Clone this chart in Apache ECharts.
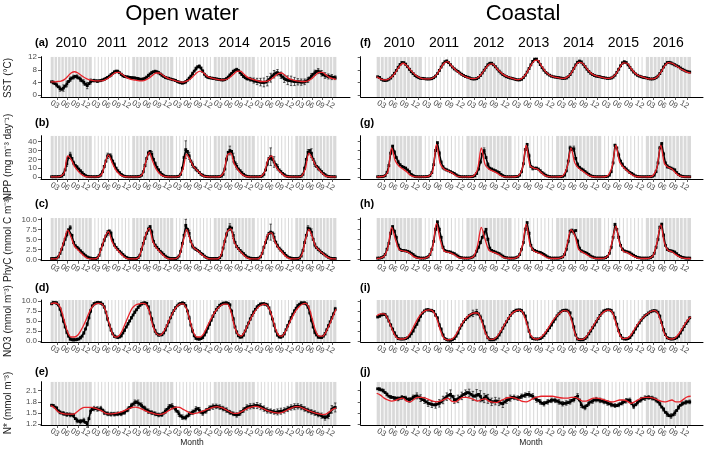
<!DOCTYPE html>
<html><head><meta charset="utf-8">
<script src="https://cdn.jsdelivr.net/npm/echarts@6/dist/echarts.min.js"></script>
<style>html,body{margin:0;padding:0;background:#fff}#c{width:709px;height:450px}</style>
</head><body><div id="c"></div><script>
// ---------- categories / labels ----------
const years = [2010,2011,2012,2013,2014,2015,2016];
const shadedYears = [1,0,1,0,1,0,1];
const monthTickMonths = [2,5,8,11];
const monthLabels = ['03','06','09','12'];
const panelTags = ['(a)','(b)','(c)','(d)','(e)','(f)','(g)','(h)','(i)','(j)'];
const columnTitles = ['Open water','Coastal'];
const rowTitles = ['SST (°C)','NPP (mg m⁻³ day⁻¹)','PhyC (mmol C m⁻³)','NO3 (mmol m⁻³)','N* (mmol m⁻³)'];
const yTickValues = [[0,4,8,12],[0,10,20,30,40],[0,2.5,5,7.5,10],[0,2.5,5,7.5,10],[1.2,1.5,1.8,2.1]];
const yTickDecimals = [0,0,1,1,1];
const xLabel = 'Month';

// ---------- observed (black), semi-monthly, Jan 2010 .. Dec 2016 ----------
const sstOpenObs = [
4.2,4.0,3.6,3.2,2.6,2.0,1.8,2.2,2.8,3.5,4.3,5.0,5.4,5.7,5.9,5.8,5.4,5.0,4.5,4.0,3.4,3.0,3.6,4.3,
4.5,4.6,4.5,4.4,4.5,4.6,4.8,5.0,5.3,5.6,6.0,6.4,6.9,7.3,7.6,7.5,7.1,6.6,6.1,5.9,5.8,5.7,5.6,5.5,
5.5,5.4,5.3,5.2,5.0,5.0,5.1,5.3,5.7,6.2,6.7,7.1,7.4,7.5,7.4,7.1,6.7,6.3,5.9,5.6,5.4,5.3,5.1,4.9,
4.8,4.6,4.3,4.1,3.9,3.8,3.9,4.2,4.7,5.3,6.0,6.8,7.6,8.4,9.0,9.1,8.6,7.6,6.6,6.0,5.6,5.5,5.4,5.3,
5.2,5.1,5.0,4.9,4.8,4.8,4.9,5.2,5.7,6.3,6.9,7.5,7.9,8.1,7.8,7.2,6.5,5.9,5.5,5.2,5.1,5.0,4.8,4.6,
4.4,4.3,4.2,4.1,4.0,4.0,4.1,4.4,4.9,5.5,6.1,6.6,7.0,7.1,6.8,6.3,5.7,5.2,4.9,4.7,4.6,4.5,4.4,4.3,
4.3,4.2,4.2,4.1,4.1,4.2,4.4,4.8,5.4,6.0,6.6,7.1,7.5,7.6,7.3,6.9,6.5,6.2,6.0,5.9,5.8,5.7,5.6,5.5];
const sstCoastObs = [
5.8,5.6,5.0,4.7,4.6,4.7,5.0,5.4,6.1,6.9,7.8,8.8,9.7,10.3,10.3,9.8,9.0,8.2,7.4,6.8,6.2,5.8,5.5,5.3,
5.3,5.2,5.1,5.1,5.1,5.2,5.5,6.0,6.8,7.8,8.9,9.9,10.6,10.8,10.3,9.6,8.9,8.3,7.9,7.5,7.0,6.6,6.2,5.9,
5.7,5.5,5.2,5.1,5.1,5.2,5.6,6.2,7.0,7.9,8.8,9.6,10.1,10.1,9.6,9.0,8.3,7.6,7.0,6.5,6.1,5.8,5.6,5.4,
5.3,5.1,4.9,4.8,4.8,5.0,5.5,6.3,7.3,8.4,9.6,10.7,11.4,11.4,10.7,9.7,8.7,7.9,7.2,6.7,6.3,6.0,5.8,5.7,
5.6,5.5,5.4,5.3,5.3,5.4,5.8,6.5,7.4,8.5,9.6,10.4,10.8,10.5,9.8,9.0,8.2,7.5,6.9,6.5,6.2,6.0,5.9,5.8,
5.6,5.5,5.4,5.3,5.3,5.4,5.7,6.3,7.2,8.2,9.3,10.2,10.6,10.3,9.6,8.8,8.0,7.3,6.7,6.3,6.0,5.8,5.6,5.5,
5.4,5.2,5.1,5.1,5.2,5.5,6.0,6.8,7.8,8.9,9.8,10.3,10.4,10.2,9.9,9.6,9.3,9.0,8.6,8.2,7.9,7.6,7.4,7.3];
const nppOpenObs = [
0.3,0.3,0.3,0.3,0.4,0.5,1,3,8,15,22,25,21,16,13,11,9,7,5,3,1.5,0.8,0.5,0.4,
0.3,0.3,0.3,0.4,0.8,2,6,12,18,24,25,23,18,14,10,7,5,3,1.5,0.8,0.4,0.3,0.3,0.3,
0.3,0.3,0.3,0.4,0.8,2,6,13,21,27,29,26,20,15,11,8,5,3,1.5,0.8,0.4,0.3,0.3,0.3,
0.3,0.3,0.4,0.8,3,10,22,31,29,24,18,14,11,9,7,5,3,2,1,0.6,0.4,0.3,0.3,0.3,
0.3,0.3,0.3,0.5,1,3,9,20,28,30,29,22,16,12,9,7,5,3,1.5,0.8,0.4,0.3,0.3,0.3,
0.3,0.3,0.3,0.5,1,3,8,15,21,23,20,17,14,11,8,6,4,2.5,1.2,0.6,0.4,0.3,0.3,0.3,
0.3,0.3,0.4,0.8,3,10,20,28,30,27,20,15,12,10,8,6,4,2.5,1.2,0.6,0.4,0.3,0.3,0.3];
const nppCoastObs = [
0.3,0.3,0.4,0.6,1.5,5,13,27,35,28,22,17,14,12,11,10,8,6,3,1.5,0.6,0.4,0.3,0.3,
0.3,0.3,0.4,0.6,1.5,5,14,30,39,27,17,11,9,8,7,6,5,4,2.5,1.2,0.5,0.3,0.3,0.3,
0.3,0.3,0.4,0.6,1.5,4,9,17,26,30,22,14,10,9,8,7,6,5,3,1.5,0.6,0.3,0.3,0.3,
0.3,0.3,0.4,0.6,2,6,15,31,37,24,12,10,10,10,9,7,5,3.5,2,1,0.5,0.3,0.3,0.3,
0.3,0.3,0.4,0.7,2,7,18,33,31,32,21,14,11,9,8,6,4.5,3,1.5,0.8,0.4,0.3,0.3,0.3,
0.3,0.3,0.4,0.7,2,6,16,36,33,25,18,14,11,9,7,5,4,2.5,1.2,0.6,0.4,0.3,0.3,0.3,
0.3,0.3,0.4,0.7,2,6,16,33,38,26,16,12,11,10,9,8,5,3,1.5,0.8,0.4,0.3,0.3,0.3];
const phycOpenObs = [
0.2,0.2,0.2,0.3,0.6,1.5,2.5,3.8,5.0,6.2,7.4,7.9,6.0,4.2,3.4,3.0,2.6,2.1,1.7,1.3,0.9,0.6,0.4,0.3,
0.2,0.2,0.2,0.3,1.0,2.5,3.6,4.8,5.8,6.6,7.1,6.5,4.8,3.6,3.0,2.5,2.0,1.6,1.2,0.8,0.5,0.3,0.2,0.2,
0.2,0.2,0.2,0.4,1.0,2.5,4.0,5.3,6.5,7.5,8.2,6.8,4.5,3.5,3.0,2.5,2.0,1.6,1.2,0.8,0.5,0.3,0.2,0.2,
0.2,0.2,0.3,0.8,2.0,4.0,6.0,8.5,7.5,6.5,4.5,3.3,2.8,2.5,2.2,1.9,1.5,1.2,0.8,0.5,0.3,0.2,0.2,0.2,
0.2,0.2,0.2,0.4,1.0,2.8,4.5,6.2,7.4,8.1,7.8,6.0,4.2,3.2,2.7,2.2,1.8,1.4,1.0,0.6,0.4,0.3,0.2,0.2,
0.2,0.2,0.3,0.6,1.5,3.0,4.2,5.5,6.5,6.8,6.6,5.5,4.3,3.4,2.8,2.3,1.9,1.5,1.0,0.6,0.4,0.3,0.2,0.2,
0.2,0.2,0.3,0.8,2.2,4.2,6.0,7.8,7.6,6.8,5.0,3.6,2.9,2.5,2.1,1.7,1.4,1.1,0.8,0.5,0.3,0.2,0.2,0.2];
const phycCoastObs = [
0.3,0.3,0.4,0.6,1.2,2.5,4.0,6.5,8.2,7.0,5.5,3.5,2.5,2.2,2.2,2.1,2.0,1.8,1.5,1.2,0.8,0.5,0.4,0.3,
0.3,0.3,0.4,0.6,1.2,2.5,4.5,7.5,9.4,7.5,5.5,3.0,2.2,2.0,1.9,1.8,1.6,1.4,1.1,0.8,0.5,0.4,0.3,0.3,
0.3,0.3,0.4,0.6,1.0,2.0,3.0,4.2,5.5,6.5,7.5,5.0,2.8,2.2,2.0,1.8,1.6,1.4,1.1,0.8,0.5,0.4,0.3,0.3,
0.3,0.3,0.4,0.6,1.2,2.5,4.2,7.5,9.2,6.5,3.5,2.5,2.2,2.0,1.8,1.7,1.5,1.2,0.9,0.6,0.4,0.3,0.3,0.3,
0.3,0.3,0.4,0.6,1.2,2.5,4.5,7.0,7.3,6.8,7.2,4.5,2.8,2.1,1.9,1.7,1.5,1.2,0.8,0.6,0.4,0.3,0.3,0.3,
0.3,0.3,0.4,0.7,1.5,3.0,5.5,8.7,7.5,5.5,3.5,2.5,2.1,1.9,1.8,1.6,1.3,1.0,0.7,0.5,0.4,0.3,0.3,0.3,
0.3,0.3,0.4,0.7,1.5,3.0,5.0,8.0,8.8,6.0,3.5,2.5,2.2,2.1,2.0,1.8,1.4,1.0,0.7,0.5,0.4,0.3,0.3,0.3];
const no3OpenObs = [
9.3,9.6,9.6,9.5,9.0,8.0,6.5,5.0,3.5,2.2,1.2,0.5,0.3,0.3,0.3,0.4,0.5,0.8,1.2,2.0,3.0,4.2,5.8,7.5,
8.8,9.3,9.5,9.6,9.6,9.5,9.2,8.5,7.2,5.5,4.0,2.8,1.8,1.2,1.0,0.9,1.0,1.3,2.0,2.7,3.5,4.3,5.0,5.8,
6.5,7.2,7.8,8.4,8.9,9.3,9.5,9.5,9.4,8.5,7.0,5.5,3.8,2.5,1.8,1.5,1.5,1.6,2.0,2.8,3.8,4.8,5.8,6.8,
7.6,8.3,8.8,9.2,9.4,9.5,9.4,8.8,7.5,5.8,4.0,2.5,1.3,0.7,0.5,0.5,0.6,0.9,1.5,2.3,3.2,4.2,5.2,6.2,
7.1,7.8,8.4,8.9,9.2,9.4,9.5,9.5,9.4,9.0,7.5,5.5,3.5,2.2,1.3,1.0,1.0,1.5,2.5,3.5,4.5,5.5,6.4,7.2,
7.9,8.5,8.9,9.2,9.3,9.3,9.2,9.0,8.3,7.0,5.5,4.0,2.5,1.5,1.0,1.0,1.2,1.8,2.8,3.8,4.8,5.8,6.7,7.5,
8.2,8.8,9.2,9.5,9.5,9.5,9.3,8.5,7.0,5.2,3.5,2.2,1.5,1.0,0.9,0.9,1.2,1.8,2.8,3.8,4.8,5.8,6.8,8.0];
const no3CoastObs = [
6.0,6.2,6.5,6.7,6.6,6.0,5.0,4.0,3.0,2.0,1.2,0.6,0.5,0.5,0.5,0.6,0.8,1.2,1.8,2.5,3.5,4.2,5.2,6.2,
7.0,7.5,7.8,7.8,7.7,7.6,7.4,6.5,5.8,4.0,3.0,1.5,0.6,0.3,0.2,0.2,0.3,0.6,1.2,2.0,3.2,4.0,4.8,5.4,
5.8,6.3,6.6,6.9,7.0,7.2,6.8,6.0,5.0,3.5,2.0,0.8,0.3,0.3,0.3,0.5,0.8,1.5,2.3,3.2,4.0,4.8,5.6,6.4,
7.0,7.4,7.7,7.7,7.8,7.6,7.0,6.2,4.5,2.5,1.0,0.6,0.5,0.5,0.5,0.6,0.9,1.4,2.0,2.6,3.3,4.0,4.8,5.5,
6.3,6.8,7.3,7.6,7.7,7.7,7.5,7.0,5.5,3.5,1.5,0.5,0.3,0.3,0.3,0.6,1.0,1.8,2.5,3.3,4.0,4.8,5.6,6.4,
7.0,7.5,7.7,7.8,7.8,7.6,7.0,5.8,4.2,2.6,1.4,0.7,0.5,0.5,0.6,0.9,1.5,2.2,3.0,3.8,4.5,5.2,5.8,6.3,
6.6,7.0,7.3,7.5,7.6,7.5,7.2,6.2,4.6,2.8,1.6,0.8,0.6,0.5,0.5,0.6,0.8,1.2,2.0,2.8,3.6,4.4,5.0,5.8];
const nstarOpenObs = [
1.71,1.70,1.66,1.63,1.56,1.52,1.50,1.49,1.47,1.46,1.47,1.45,1.45,1.44,1.35,1.30,1.28,1.27,1.29,1.30,1.25,1.19,1.35,1.55,
1.60,1.62,1.62,1.61,1.60,1.62,1.58,1.52,1.50,1.48,1.47,1.47,1.48,1.47,1.47,1.48,1.48,1.48,1.50,1.52,1.56,1.60,1.65,1.70,
1.74,1.78,1.80,1.77,1.74,1.70,1.66,1.62,1.58,1.55,1.53,1.51,1.50,1.48,1.46,1.45,1.45,1.46,1.50,1.55,1.60,1.65,1.70,1.68,
1.64,1.60,1.55,1.48,1.42,1.39,1.37,1.38,1.42,1.47,1.50,1.52,1.55,1.60,1.62,1.58,1.52,1.50,1.53,1.56,1.60,1.63,1.66,1.67,
1.68,1.68,1.67,1.66,1.64,1.62,1.60,1.58,1.55,1.52,1.50,1.48,1.46,1.45,1.46,1.50,1.54,1.58,1.62,1.65,1.67,1.68,1.68,1.69,
1.70,1.70,1.69,1.67,1.65,1.62,1.59,1.57,1.56,1.55,1.54,1.53,1.52,1.53,1.54,1.55,1.55,1.57,1.59,1.61,1.63,1.65,1.66,1.67,
1.68,1.68,1.67,1.66,1.64,1.61,1.59,1.57,1.55,1.53,1.52,1.50,1.48,1.46,1.45,1.43,1.40,1.38,1.40,1.43,1.52,1.60,1.64,1.65];
const nstarCoastObs = [
2.15,2.14,2.12,2.10,2.05,2.00,1.95,1.93,1.92,1.90,1.90,1.88,1.90,1.92,1.92,1.90,1.87,1.85,1.88,1.92,1.95,1.96,1.93,1.90,
1.86,1.84,1.80,1.76,1.75,1.73,1.72,1.72,1.74,1.76,1.80,1.85,1.90,1.94,1.98,2.00,1.95,1.86,1.85,1.88,1.92,1.96,2.00,2.02,
2.05,2.04,2.00,1.96,1.95,1.98,2.00,1.95,1.85,1.90,1.95,1.88,1.84,1.80,1.80,1.82,1.82,1.80,1.76,1.75,1.80,1.84,1.86,1.90,
1.92,1.92,1.90,1.90,1.92,1.95,1.96,1.98,2.00,2.00,1.97,1.95,1.90,1.86,1.84,1.80,1.76,1.75,1.78,1.80,1.82,1.84,1.85,1.84,
1.82,1.80,1.77,1.75,1.76,1.77,1.78,1.80,1.84,1.86,1.92,1.95,1.85,1.72,1.66,1.65,1.70,1.76,1.80,1.82,1.85,1.86,1.85,1.84,
1.82,1.81,1.79,1.77,1.75,1.73,1.71,1.70,1.70,1.72,1.75,1.78,1.80,1.83,1.85,1.84,1.75,1.68,1.72,1.78,1.82,1.86,1.89,1.90,
1.92,1.92,1.91,1.90,1.88,1.85,1.80,1.75,1.66,1.60,1.52,1.47,1.43,1.42,1.45,1.50,1.57,1.65,1.71,1.75,1.77,1.79,1.80,1.80];

// ---------- model (red), first of each month Jan 2010 .. Jan 2017 ----------
const sstOpenModel = [
4.2,4.2,4.3,4.4,4.9,5.9,7.0,7.4,7.0,6.2,5.5,5.0,
4.7,4.5,4.5,4.5,4.8,5.4,6.3,7.1,7.2,6.6,5.8,5.2,
4.9,4.7,4.5,4.5,4.8,5.4,6.3,7.0,7.0,6.3,5.6,5.1,
4.8,4.4,4.2,4.1,4.4,5.0,6.0,7.1,7.6,7.0,6.0,5.5,
5.2,5.0,4.8,4.8,5.1,5.8,6.8,7.6,7.5,6.5,5.6,5.1,
4.8,4.5,4.3,4.3,4.5,5.1,6.0,6.8,7.0,6.2,5.3,4.9,
4.6,4.4,4.3,4.3,4.6,5.4,6.4,7.2,7.2,6.4,5.6,5.2,5.0];
const sstCoastModel = [
5.8,5.1,4.8,5.0,5.7,7.2,9.0,10.1,9.4,8.0,6.8,5.8,
5.3,5.1,5.1,5.4,6.4,8.3,10.1,10.6,9.3,8.1,7.1,6.3,
5.7,5.3,5.2,5.5,6.6,8.3,9.7,9.9,8.6,7.4,6.4,5.8,
5.4,5.0,4.9,5.4,6.8,8.9,10.7,11.1,9.4,7.7,6.5,5.9,
5.6,5.4,5.3,5.7,6.9,8.9,10.4,10.2,8.7,7.3,6.4,6.0,
5.7,5.4,5.3,5.6,6.7,8.7,10.2,10.1,8.5,7.1,6.2,5.8,
5.4,5.1,5.1,5.7,7.2,9.2,10.3,10.1,9.4,8.6,7.9,7.3,7.0];
const nppOpenModel = [
0.2,0.2,0.2,1,5,24,20,12,7,3,0.8,0.2,
0.2,0.2,0.5,3,15,25,17,9,4,1.2,0.3,0.2,
0.2,0.2,0.5,3,17,28,18,9,4,1.2,0.3,0.2,
0.2,0.2,1.5,10,26,20,12,8,4,1,0.3,0.2,
0.2,0.2,1,6,25,27,15,9,4,1.2,0.3,0.2,
0.2,0.2,1,6,20,24,14,8,4,1,0.3,0.2,
0.2,0.2,1.5,10,27,21,13,8,4,1,0.3,0.2,0.2];
const nppCoastModel = [
0.2,0.3,1,6,33,18,12,9,6,2,0.4,0.2,
0.2,0.3,1,7,37,15,9,7,5,2,0.4,0.2,
0.2,0.3,1.5,9,33,14,9,7,5,2,0.4,0.2,
0.2,0.3,1.5,10,36,13,10,9,5,1.5,0.4,0.2,
0.2,0.3,2,12,33,16,10,7,4,1.2,0.3,0.2,
0.2,0.3,2,12,36,17,11,7,3.5,1,0.3,0.2,
0.2,0.3,2,11,36,15,11,9,4.5,1.2,0.3,0.2,0.2];
const phycOpenModel = [
0.1,0.1,0.3,2.2,4.8,7.3,5.5,3.3,2.4,1.5,0.7,0.2,
0.1,0.1,0.6,3.0,5.6,6.9,4.5,3.0,2.0,1.1,0.4,0.1,
0.1,0.1,0.6,3.2,6.2,7.8,4.6,3.0,2.0,1.1,0.4,0.1,
0.1,0.2,1.2,4.5,7.5,5.0,3.0,2.3,1.6,0.8,0.3,0.1,
0.1,0.1,0.8,3.8,7.0,7.6,4.3,2.8,1.8,0.9,0.3,0.1,
0.1,0.1,1.0,3.8,6.3,6.6,4.4,2.9,1.9,0.9,0.3,0.1,
0.1,0.2,1.3,5.0,7.5,5.6,3.2,2.3,1.5,0.8,0.3,0.1,0.1];
const phycCoastModel = [
0.2,0.3,0.8,3.0,8.0,5.0,2.4,2.1,1.9,1.4,0.6,0.3,
0.2,0.3,0.8,3.2,9.0,4.8,2.1,1.8,1.5,1.0,0.4,0.3,
0.2,0.3,0.8,3.5,8.0,5.0,2.3,1.8,1.5,1.0,0.4,0.3,
0.2,0.3,0.8,3.5,8.8,3.8,2.1,1.7,1.3,0.7,0.3,0.2,
0.2,0.3,0.8,4.0,7.4,6.0,2.5,1.8,1.3,0.7,0.3,0.2,
0.2,0.3,1.0,4.5,8.3,4.0,2.0,1.7,1.1,0.6,0.3,0.2,
0.2,0.3,1.0,4.2,8.6,4.0,2.2,1.9,1.2,0.6,0.3,0.2,0.2];
const no3OpenModel = [
9.3,9.5,9.3,8.0,5.0,2.2,1.0,1.0,1.5,2.8,4.5,6.5,
8.3,9.2,9.4,9.3,8.0,5.0,2.2,1.0,1.2,2.5,4.5,6.5,
8.2,9.0,9.3,9.4,9.2,7.5,4.0,2.0,1.4,2.0,3.5,5.5,
7.2,8.5,9.2,9.3,8.0,5.0,2.2,1.0,1.0,1.8,3.5,5.2,
6.8,8.0,8.8,9.2,9.2,7.5,4.0,1.8,1.2,2.2,4.0,5.8,
7.3,8.4,9.0,9.2,8.6,6.5,3.5,1.5,1.2,2.3,4.0,5.8,
7.4,8.5,9.2,9.4,8.3,5.5,2.5,1.2,1.2,2.2,4.0,6.0,8.0];
const no3CoastModel = [
6.3,6.8,6.8,5.5,3.2,1.2,0.5,0.5,0.8,2.0,3.8,5.6,
6.9,7.6,7.8,7.5,5.8,2.8,0.7,0.3,0.4,1.3,3.0,4.6,
5.8,6.6,7.0,7.0,5.2,2.2,0.5,0.4,0.9,2.2,3.8,5.4,
6.7,7.4,7.7,7.3,4.8,1.8,0.6,0.5,1.0,2.0,3.4,4.9,
6.1,7.0,7.6,7.5,5.6,2.0,0.4,0.4,1.0,2.4,3.9,5.4,
6.6,7.4,7.7,7.2,4.5,1.6,0.6,0.7,1.5,3.0,4.4,5.6,
6.5,7.2,7.6,7.3,5.0,1.8,0.6,0.5,0.9,2.0,3.5,5.0,6.0];
const nstarOpenModel = [
1.70,1.65,1.55,1.50,1.48,1.47,1.47,1.48,1.55,1.62,1.65,1.65,
1.65,1.63,1.60,1.56,1.50,1.48,1.48,1.49,1.51,1.54,1.58,1.62,
1.65,1.66,1.64,1.60,1.56,1.52,1.50,1.47,1.46,1.48,1.52,1.58,
1.63,1.66,1.65,1.60,1.55,1.50,1.48,1.50,1.53,1.56,1.60,1.63,
1.66,1.67,1.65,1.62,1.57,1.52,1.49,1.49,1.53,1.58,1.63,1.66,
1.68,1.67,1.64,1.60,1.56,1.53,1.51,1.50,1.51,1.55,1.60,1.64,
1.67,1.67,1.64,1.60,1.56,1.53,1.50,1.48,1.46,1.47,1.53,1.60,1.63];
const nstarCoastModel = [
2.03,1.98,1.90,1.85,1.82,1.84,1.88,1.90,1.82,1.80,1.87,1.92,
1.92,1.90,1.86,1.82,1.80,1.82,1.86,1.90,1.82,1.80,1.86,1.92,
1.92,1.90,1.86,1.82,1.86,1.88,1.82,1.79,1.78,1.82,1.87,1.91,
1.92,1.90,1.86,1.81,1.80,1.84,1.90,1.93,1.95,1.95,1.95,1.95,
1.93,1.91,1.90,1.90,1.92,1.92,1.88,1.82,1.82,1.86,1.90,1.90,
1.88,1.85,1.82,1.80,1.82,1.85,1.85,1.82,1.76,1.80,1.86,1.91,
1.92,1.92,1.90,1.86,1.82,1.80,1.82,1.85,1.80,1.80,1.86,1.93,1.95];

// ---------- error half-widths (one per month) ----------
const sstOpenErr = [
0.5,0.6,0.8,1.0,0.9,0.7,0.6,0.6,0.7,0.8,1.0,0.8,
0.4,0.4,0.3,0.3,0.3,0.4,0.4,0.4,0.3,0.3,0.3,0.3,
0.3,0.3,0.3,0.3,0.4,0.4,0.4,0.4,0.3,0.3,0.3,0.3,
0.3,0.3,0.3,0.4,0.4,0.5,0.5,0.5,0.4,0.3,0.3,0.3,
0.3,0.3,0.3,0.3,0.4,0.4,0.4,0.4,0.3,0.4,0.6,0.8,
1.0,1.2,1.4,1.5,1.4,1.2,1.0,1.0,1.2,1.4,1.5,1.3,
1.0,1.0,0.9,0.8,0.8,0.8,0.8,0.9,0.9,0.8,0.8,0.6];
const sstCoastErr = [
0.2,0.2,0.2,0.2,0.2,0.3,0.3,0.3,0.2,0.2,0.2,0.2,
0.2,0.2,0.2,0.2,0.2,0.3,0.3,0.3,0.2,0.2,0.2,0.2,
0.2,0.2,0.2,0.2,0.2,0.3,0.3,0.3,0.2,0.2,0.2,0.2,
0.2,0.2,0.2,0.2,0.2,0.3,0.3,0.3,0.2,0.2,0.2,0.2,
0.2,0.2,0.2,0.2,0.2,0.3,0.3,0.3,0.2,0.2,0.2,0.2,
0.2,0.2,0.2,0.2,0.2,0.3,0.3,0.3,0.2,0.2,0.2,0.2,
0.2,0.2,0.2,0.2,0.2,0.3,0.3,0.3,0.2,0.2,0.2,0.2];
const nppOpenErr = [
0,0,0,1,3,3,2,2,1,0,0,0,
0,0,0,1,3,3,2,1,1,0,0,0,
0,0,0,1,2,3,2,1,1,0,0,0,
0,0,1,10,4,3,2,1,1,0,0,0,
0,0,0,2,5,5,3,1,1,0,0,0,
0,0,0,2,10,6,3,1,1,0,0,0,
0,0,1,3,5,3,2,1,1,0,0,0];
const nppCoastErr = [
0,0,0,1,2,2,1,1,1,0,0,0,
0,0,0,1,2,2,1,1,0,0,0,0,
0,0,0,1,3,2,1,1,1,0,0,0,
0,0,0,1,2,2,1,1,0,0,0,0,
0,0,0,2,3,2,1,1,0,0,0,0,
0,0,0,1,2,2,1,1,0,0,0,0,
0,0,0,1,2,2,1,1,0,0,0,0];
const phycOpenErr = [
0,0,0,0.3,0.6,0.5,0.3,0.2,0.2,0,0,0,
0,0,0,0.3,0.6,0.5,0.3,0.2,0.2,0,0,0,
0,0,0,0.3,0.5,0.5,0.3,0.2,0.2,0,0,0,
0,0,0.2,1.5,0.8,0.5,0.3,0.2,0.2,0,0,0,
0,0,0,0.5,0.8,0.8,0.3,0.2,0.2,0,0,0,
0,0,0,0.6,2.0,1.0,0.4,0.2,0.2,0,0,0,
0,0,0.2,0.6,0.8,0.5,0.3,0.2,0.2,0,0,0];
const phycCoastErr = [
0,0,0,0.3,0.3,0.3,0.2,0.2,0.2,0,0,0,
0,0,0,0.3,0.3,0.3,0.2,0.2,0.2,0,0,0,
0,0,0,0.3,0.5,0.3,0.2,0.2,0.2,0,0,0,
0,0,0,0.3,0.3,0.3,0.2,0.2,0.2,0,0,0,
0,0,0,0.3,0.5,0.5,0.2,0.2,0,0,0,0,
0,0,0,0.3,0.3,0.3,0.2,0.2,0,0,0,0,
0,0,0,0.3,0.4,0.3,0.2,0.2,0,0,0,0];
const no3OpenErr = [
0.3,0.3,0.3,0.4,0.4,0.3,0.3,0.3,0.3,0.3,0.4,0.4,
0.3,0.3,0.3,0.3,0.4,0.4,0.3,0.3,0.3,0.3,0.3,0.3,
0.3,0.3,0.3,0.3,0.3,0.4,0.4,0.3,0.3,0.3,0.3,0.3,
0.3,0.3,0.3,0.3,0.4,0.4,0.3,0.3,0.3,0.3,0.3,0.3,
0.3,0.3,0.3,0.3,0.3,0.4,0.4,0.3,0.3,0.3,0.3,0.3,
0.3,0.3,0.3,0.3,0.4,0.4,0.3,0.3,0.3,0.3,0.3,0.3,
0.3,0.3,0.3,0.3,0.4,0.4,0.3,0.3,0.3,0.3,0.3,0.4];
const no3CoastErr = [
0.2,0.2,0.2,0.3,0.3,0.2,0.2,0.2,0.2,0.2,0.2,0.2,
0.2,0.3,0.3,0.3,0.3,0.2,0.2,0.2,0.2,0.2,0.2,0.2,
0.3,0.8,0.7,0.5,0.3,0.2,0.2,0.2,0.2,0.2,0.2,0.2,
0.2,0.3,0.3,0.3,0.3,0.2,0.2,0.2,0.2,0.2,0.2,0.2,
0.2,0.2,0.2,0.3,0.3,0.2,0.2,0.2,0.2,0.2,0.2,0.2,
0.2,0.2,0.3,0.3,0.3,0.2,0.2,0.2,0.2,0.2,0.2,0.2,
0.2,0.2,0.2,0.3,0.3,0.2,0.2,0.2,0.2,0.2,0.2,0.2];
const nstarOpenErr = [
0.03,0.04,0.04,0.05,0.05,0.05,0.05,0.06,0.06,0.06,0.07,0.06,
0.06,0.06,0.06,0.06,0.05,0.05,0.05,0.05,0.05,0.05,0.06,0.06,
0.07,0.08,0.07,0.06,0.06,0.05,0.05,0.05,0.05,0.06,0.07,0.07,
0.07,0.07,0.06,0.06,0.06,0.06,0.07,0.07,0.06,0.06,0.06,0.07,
0.06,0.06,0.06,0.06,0.05,0.05,0.06,0.06,0.06,0.07,0.07,0.07,
0.08,0.08,0.07,0.07,0.06,0.06,0.08,0.08,0.07,0.07,0.07,0.08,
0.07,0.07,0.06,0.06,0.06,0.06,0.06,0.07,0.07,0.08,0.10,0.12];
const nstarCoastErr = [
0.04,0.04,0.04,0.04,0.04,0.05,0.05,0.05,0.06,0.06,0.08,0.09,
0.08,0.08,0.08,0.09,0.10,0.10,0.10,0.12,0.10,0.10,0.10,0.10,
0.10,0.12,0.15,0.15,0.12,0.12,0.10,0.10,0.10,0.10,0.08,0.08,
0.06,0.06,0.06,0.06,0.07,0.07,0.07,0.06,0.06,0.06,0.06,0.06,
0.06,0.06,0.06,0.06,0.06,0.07,0.07,0.06,0.06,0.06,0.06,0.06,
0.06,0.06,0.06,0.05,0.05,0.06,0.06,0.06,0.06,0.06,0.06,0.06,
0.05,0.05,0.05,0.05,0.05,0.06,0.06,0.06,0.05,0.05,0.05,0.05];

// ---------- layout (pixels / axis ranges) ----------
const FONT = '"Liberation Sans", Arial, Helvetica, sans-serif';
const COLS = [
  {left:41, width:309, min:-2.86, max:88.1, tagX:35, monthX:192},
  {left:360.7, width:342.3, min:-4.28, max:87.3, tagX:360, monthX:531}
];
const ROWS = [
  {top:56.7, height:40.3, min:-0.64, max:12.19, tagY:43, titleY:78},
  {top:135.7, height:43.3, min:-2.27, max:46.8, tagY:123, titleY:157},
  {top:218, height:42.7, min:-0.35, max:10.33, tagY:204, titleY:239},
  {top:300, height:42, min:-0.25, max:10.25, tagY:288, titleY:321},
  {top:381.7, height:43.3, min:1.18, max:2.34, tagY:372, titleY:403}
];
const panels = [
  [sstOpenObs, sstOpenModel, sstOpenErr],
  [nppOpenObs, nppOpenModel, nppOpenErr],
  [phycOpenObs, phycOpenModel, phycOpenErr],
  [no3OpenObs, no3OpenModel, no3OpenErr],
  [nstarOpenObs, nstarOpenModel, nstarOpenErr],
  [sstCoastObs, sstCoastModel, sstCoastErr],
  [nppCoastObs, nppCoastModel, nppCoastErr],
  [phycCoastObs, phycCoastModel, phycCoastErr],
  [no3CoastObs, no3CoastModel, no3CoastErr],
  [nstarCoastObs, nstarCoastModel, nstarCoastErr]
];

const xTickPositions = years.flatMap((y, k) => monthTickMonths.map(m => k * 12 + m));
const monthData = [];
for (let m = 0; m < years.length * 12; m++) monthData.push([m, shadedYears[Math.floor(m / 12)]]);
const yearData = years.map((y, k) => [k * 12 + 6, y]);

function bgRender(params, api) {
  const m = api.value(0), shade = api.value(1);
  const cs = params.coordSys;
  const x0 = api.coord([m, 0])[0], x1 = api.coord([m + 1, 0])[0];
  const children = [];
  if (shade) children.push({type:'rect', shape:{x:x0, y:cs.y, width:x1 - x0 + 0.3, height:cs.height}, style:{fill:'#d9d9d9'}});
  if (m % 12 !== 0) children.push({type:'line', shape:{x1:x0, y1:cs.y, x2:x0, y2:cs.y + cs.height},
    style:{stroke: shade ? '#ffffff' : '#d4d4d4', lineWidth:0.9}});
  return {type:'group', children};
}
function errRender(params, api) {
  const x = api.value(0), y = api.value(1), e = api.value(2);
  const p1 = api.coord([x, y - e]), p2 = api.coord([x, y + e]);
  const st = {stroke:'#1a1a1a', lineWidth:0.7};
  return {type:'group', children:[
    {type:'line', shape:{x1:p1[0], y1:p1[1], x2:p2[0], y2:p2[1]}, style:st},
    {type:'line', shape:{x1:p1[0]-1.2, y1:p1[1], x2:p1[0]+1.2, y2:p1[1]}, style:st},
    {type:'line', shape:{x1:p2[0]-1.2, y1:p2[1], x2:p2[0]+1.2, y2:p2[1]}, style:st}
  ]};
}
function yearRender(params, api) {
  const x = api.coord([api.value(0), 0])[0];
  return {type:'text', x:x, y:params.coordSys.y - 13.5,
    style:{text:String(api.value(1)), fill:'#000', font:'14px ' + FONT, align:'center', verticalAlign:'middle'}};
}

const grid = [], xAxis = [], yAxis = [], series = [], graphic = [];
for (let c = 0; c < 2; c++) {
  for (let r = 0; r < 5; r++) {
    const p = c * 5 + r;
    const C = COLS[c], R = ROWS[r];
    grid.push({left:C.left, top:R.top, width:C.width, height:R.height, containLabel:false, outerBoundsMode:'none', show:false});
    xAxis.push({type:'value', gridIndex:p, min:C.min, max:C.max, splitLine:{show:false},
      axisLine:{show:true, onZero:false, lineStyle:{color:'#000', width:1}},
      axisTick:{show:true, length:3, customValues:xTickPositions, lineStyle:{color:'#333', width:0.8}},
      axisLabel:{show:true, customValues:xTickPositions, interval:0, hideOverlap:false,
        rotate:-30, align:'center', verticalAlign:'middle',
        margin:9, padding:[0,6,0,0], fontSize:8, color:'#4d4d4d', fontFamily:FONT,
        formatter:v => monthLabels[monthTickMonths.indexOf(((Math.round(v) % 12) + 12) % 12)] || ''}});
    const dec = yTickDecimals[r];
    yAxis.push({type:'value', gridIndex:p, min:R.min, max:R.max, splitLine:{show:false},
      axisLine:{show:true, onZero:false, lineStyle:{color:'#000', width:1}},
      axisTick:{show:true, length:3, customValues:yTickValues[r], lineStyle:{color:'#333', width:0.8}},
      axisLabel:{show:c === 0, customValues:yTickValues[r], margin:4, fontSize:8, color:'#4d4d4d', fontFamily:FONT,
        formatter:v => Number(v).toFixed(dec)}});
    const [obs, model, err] = panels[p];
    series.push({type:'custom', xAxisIndex:p, yAxisIndex:p, data:monthData, renderItem:bgRender,
      encode:{x:0, y:1}, silent:true, z:0, animation:false, clip:true});
    series.push({type:'custom', xAxisIndex:p, yAxisIndex:p,
      data:err.map((e, m) => [m + 0.75, obs[2 * m + 1], e]).filter(d => d[2] > 0),
      renderItem:errRender, encode:{x:0, y:1}, silent:true, z:2, animation:false});
    series.push({type:'line', xAxisIndex:p, yAxisIndex:p,
      data:obs.map((v, i) => [(i + 0.5) / 2, v]),
      lineStyle:{color:'#000', width:1.6}, itemStyle:{color:'#000'},
      symbol:'rect', symbolSize:2.8, showSymbol:true, silent:true, z:3, animation:false});
    series.push({type:'line', xAxisIndex:p, yAxisIndex:p,
      data:model.map((v, m) => [m, v]), smooth:0.3,
      lineStyle:{color:'#e8232a', width:1.3}, itemStyle:{color:'#e8232a'},
      symbol:'none', silent:true, z:4, animation:false});
    if (r === 0) {
      series.push({type:'custom', xAxisIndex:p, yAxisIndex:p, data:yearData, renderItem:yearRender,
        encode:{x:0}, silent:true, z:5, animation:false});
    }
    graphic.push({type:'text', x:C.tagX, y:R.tagY,
      style:{text:panelTags[p], fill:'#000', font:'bold 11px ' + FONT, align:'left', verticalAlign:'middle'}});
  }
}
columnTitles.forEach((t, c) => {
  graphic.push({type:'text', x:[182, 523][c], y:14,
    style:{text:t, fill:'#000', font:'22px ' + FONT, align:'center', verticalAlign:'middle'}});
  graphic.push({type:'text', x:COLS[c].monthX, y:443,
    style:{text:xLabel, fill:'#1a1a1a', font:'8.5px ' + FONT, align:'center', verticalAlign:'middle'}});
});
rowTitles.forEach((t, r) => {
  graphic.push({type:'text', x:8, y:ROWS[r].titleY, rotation:Math.PI / 2,
    style:{text:t, fill:'#1a1a1a', font:'10px ' + FONT, align:'center', verticalAlign:'middle'}});
});

const chart = echarts.init(document.getElementById('c'), null, {renderer:'canvas'});
chart.setOption({animation:false, backgroundColor:'#fff', grid, xAxis, yAxis, series, graphic});
</script></body></html>
